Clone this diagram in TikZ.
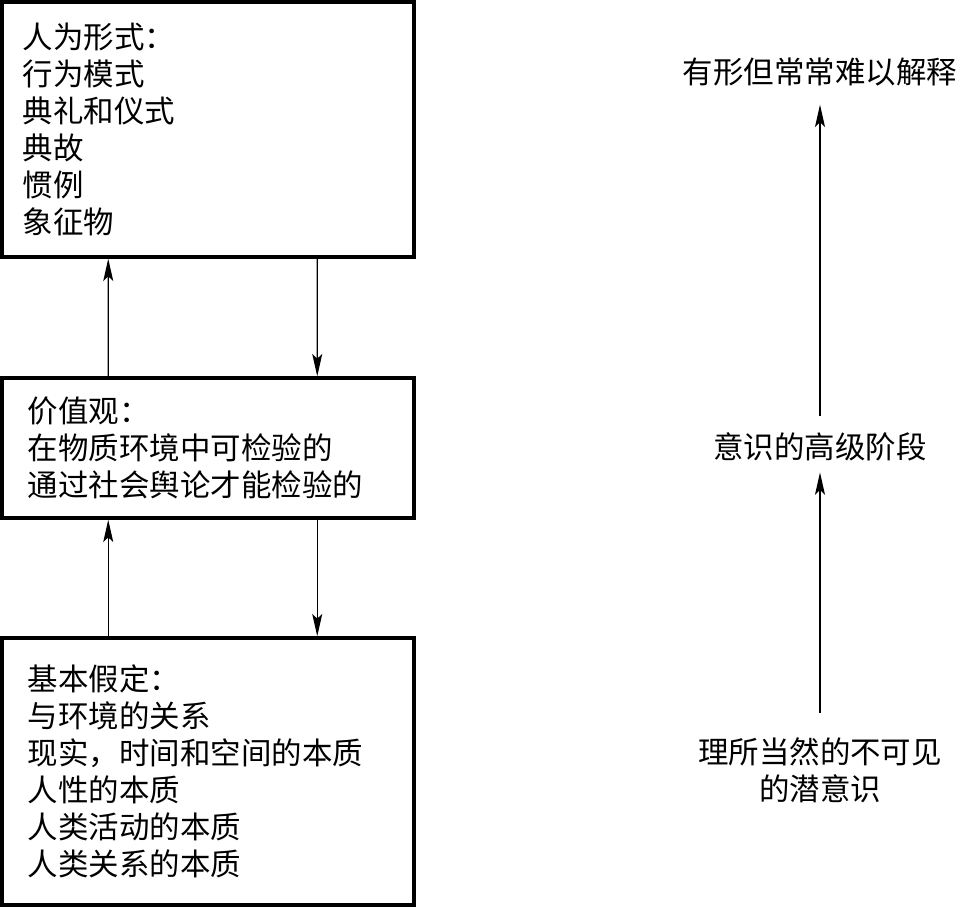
\documentclass[tikz,border=0pt]{standalone}
\usepackage{fontspec}
\usepackage{tikz}
\usetikzlibrary{arrows.meta,positioning,calc}
\newfontfamily\cjk{Noto Sans CJK SC}

\begin{document}
\begin{tikzpicture}[
  every node/.style={font=\cjk\fontsize{26pt}{31.6pt}\selectfont},
  layer/.style={draw,line width=3pt,minimum width=12.36cm,text width=11.1cm,align=left,inner xsep=0.63cm,inner ysep=0pt},
  lvl/.style={inner sep=0pt,align=center},
  arr/.style={line width=1pt,-{Stealth[length=19pt,width=8.5pt,inset=4pt]}}
]
\useasboundingbox (0,0) rectangle (28.83,-27.21);

% culture layers
\node[layer,minimum height=7.65cm] (art) at (6.24,-3.885)
  {人为形式：\\行为模式\\典礼和仪式\\典故\\惯例\\象征物};
\node[layer,minimum height=4.2cm,inner xsep=0.78cm,text width=10.8cm] (val) at (6.24,-13.44)
  {价值观：\\在物质环境中可检验的\\通过社会舆论才能检验的};
\node[layer,minimum height=8.01cm,inner xsep=0.78cm,text width=10.8cm] (asm) at (6.24,-23.145)
  {基本假定：\\与环境的关系\\现实，时间和空间的本质\\人性的本质\\人类活动的本质\\人类关系的本质};

\draw[arr] ([xshift=3.24cm]val.north west) -- ([xshift=3.24cm]art.south west);
\draw[arr] ([xshift=9.51cm]art.south west) -- ([xshift=9.51cm]val.north west);
\draw[arr] ([xshift=3.24cm]asm.north west) -- ([xshift=3.24cm]val.south west);
\draw[arr] ([xshift=9.51cm]val.south west) -- ([xshift=9.51cm]asm.north west);

% awareness levels
\node[lvl] (vis) at (24.6,-2.16) {有形但常常难以解释};
\node[lvl] (high) at (24.6,-13.41) {意识的高级阶段};
\node[lvl] (sub) at (24.6,-23.1) {理所当然的不可见\\的潜意识};

\draw[arr,shorten <=0.5cm,shorten >=0.55cm] (high) -- (vis);
\draw[arr,shorten <=0.72cm,shorten >=0.33cm] (sub) -- (high);
\end{tikzpicture}
\end{document}
